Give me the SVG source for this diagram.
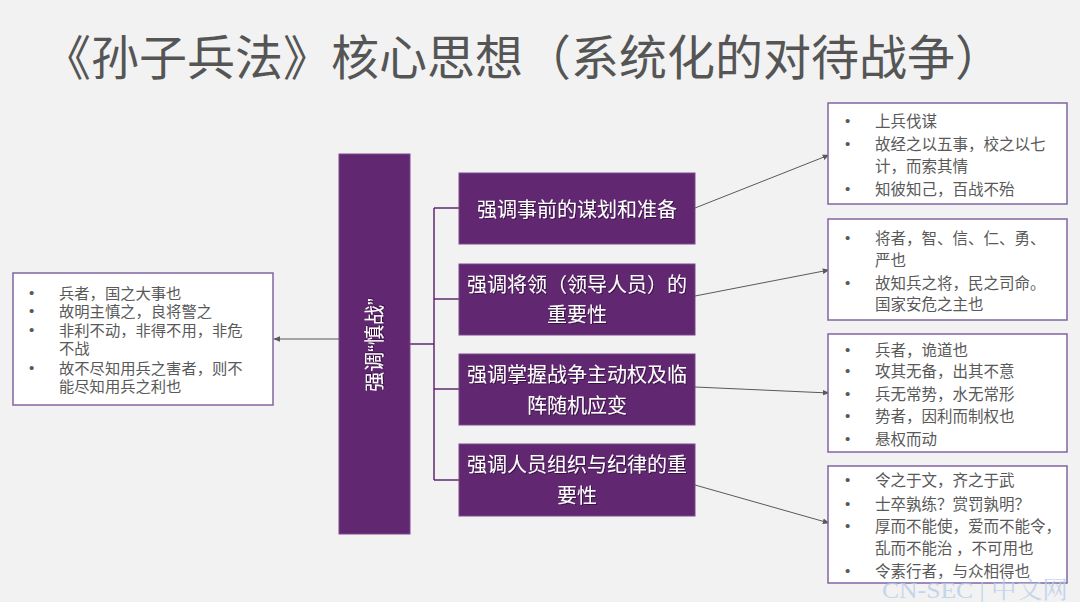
<svg xmlns="http://www.w3.org/2000/svg" width="1080" height="602" viewBox="0 0 1080 602">
<defs>
<marker id="arr" viewBox="0 0 10 10" refX="9" refY="5" markerWidth="7" markerHeight="7" orient="auto" markerUnits="userSpaceOnUse">
<path d="M0,1 L10,5 L0,9 z" fill="#595959"/>
</marker>
<filter id="sh" x="-10%" y="-30%" width="120%" height="160%">
<feDropShadow dx="1" dy="1" stdDeviation="0.6" flood-color="#000" flood-opacity="0.45"/>
</filter>
</defs>
<style>
text{font-family:"Noto Sans CJK SC","Noto Sans",sans-serif;}
.title{font-size:48px;fill:#555555;}
.pbox{fill:#612771;stroke:#7a4a8a;stroke-width:1;}
.wbox{fill:#ffffff;stroke:#8064a2;stroke-width:1.5;}
.mt{font-size:20px;fill:#ffffff;text-anchor:middle;filter:url(#sh);}
.bt{font-size:15.5px;fill:#595959;}
.lt{font-size:15.3px;fill:#595959;}
.dot{font-family:"Liberation Sans",Arial,sans-serif;font-size:15px;fill:#595959;}
.q{font-family:"Liberation Sans",Arial,sans-serif;}
.con{stroke:#595959;stroke-width:1;fill:none;}
.br{stroke:#612771;stroke-width:1.5;fill:none;}
</style>
<rect width="1080" height="602" fill="#f2f2f2"/>
<text class="title" x="43" y="75">《孙子兵法》核心思想（系统化的对待战争）</text>

<g id="connectors">
<line class="br" x1="410" y1="344" x2="434" y2="344"/>
<line class="br" x1="434" y1="208" x2="434" y2="480"/>
<line class="br" x1="434" y1="208" x2="459" y2="208"/>
<line class="br" x1="434" y1="299" x2="459" y2="299"/>
<line class="br" x1="434" y1="389" x2="459" y2="389"/>
<line class="br" x1="434" y1="480" x2="459" y2="480"/>
<line class="con" x1="339" y1="339" x2="274" y2="339" marker-end="url(#arr)"/>
<line class="con" x1="695" y1="208" x2="829" y2="155" marker-end="url(#arr)"/>
<line class="con" x1="695" y1="296" x2="829" y2="270" marker-end="url(#arr)"/>
<line class="con" x1="695" y1="387" x2="829" y2="393" marker-end="url(#arr)"/>
<line class="con" x1="695" y1="485" x2="829" y2="523" marker-end="url(#arr)"/>
</g>

<g id="root">
<rect class="pbox" x="339" y="154" width="71" height="380"/>
<text class="mt" transform="translate(375,345) rotate(-90)" x="0" y="7">强调<tspan class="q">“</tspan>慎战<tspan class="q">”</tspan></text>
</g>

<g id="n1">
<rect class="pbox" x="459" y="173" width="236" height="71"/>
<text class="mt" x="577" y="217">强调事前的谋划和准备</text>
</g>
<g id="n2">
<rect class="pbox" x="459" y="264" width="236" height="71"/>
<text class="mt" x="577" y="292">强调将领（领导人员）的</text>
<text class="mt" x="577" y="322">重要性</text>
</g>
<g id="n3">
<rect class="pbox" x="459" y="354" width="236" height="71"/>
<text class="mt" x="577" y="382">强调掌握战争主动权及临</text>
<text class="mt" x="577" y="413">阵随机应变</text>
</g>
<g id="n4">
<rect class="pbox" x="459" y="444" width="236" height="72"/>
<text class="mt" x="577" y="472">强调人员组织与纪律的重</text>
<text class="mt" x="577" y="503">要性</text>
</g>

<g id="left">
<rect class="wbox" x="13" y="273" width="260" height="132"/>
<text class="dot" x="29" y="298">•</text><text class="lt" x="59" y="299">兵者，国之大事也</text>
<text class="dot" x="29" y="316">•</text><text class="lt" x="59" y="317">故明主慎之，良将警之</text>
<text class="dot" x="29" y="335">•</text><text class="lt" x="59" y="336">非利不动，非得不用，非危</text>
<text class="lt" x="59" y="354">不战</text>
<text class="dot" x="29" y="373">•</text><text class="lt" x="59" y="374">故不尽知用兵之害者，则不</text>
<text class="lt" x="59" y="392">能尽知用兵之利也</text>
</g>

<g id="r1">
<rect class="wbox" x="828" y="103" width="239" height="101"/>
<text class="dot" x="845" y="126">•</text><text class="bt" x="875" y="127">上兵伐谋</text>
<text class="dot" x="845" y="149">•</text><text class="bt" x="875" y="150">故经之以五事，校之以七</text>
<text class="bt" x="875" y="172">计，而索其情</text>
<text class="dot" x="845" y="194">•</text><text class="bt" x="875" y="195">知彼知己，百战不殆</text>
</g>
<g id="r2">
<rect class="wbox" x="828" y="219" width="239" height="101"/>
<text class="dot" x="845" y="243">•</text><text class="bt" x="875" y="244">将者，智、信、仁、勇、</text>
<text class="bt" x="875" y="266">严也</text>
<text class="dot" x="845" y="288">•</text><text class="bt" x="875" y="289">故知兵之将，民之司命。</text>
<text class="bt" x="875" y="310">国家安危之主也</text>
</g>
<g id="r3">
<rect class="wbox" x="828" y="334" width="239" height="118"/>
<text class="dot" x="845" y="355">•</text><text class="bt" x="875" y="356">兵者，诡道也</text>
<text class="dot" x="845" y="376">•</text><text class="bt" x="875" y="377">攻其无备，出其不意</text>
<text class="dot" x="845" y="399">•</text><text class="bt" x="875" y="400">兵无常势，水无常形</text>
<text class="dot" x="845" y="421">•</text><text class="bt" x="875" y="422">势者，因利而制权也</text>
<text class="dot" x="845" y="444">•</text><text class="bt" x="875" y="445">悬权而动</text>
</g>
<g id="r4">
<rect class="wbox" x="828" y="466" width="239" height="117"/>
<text class="dot" x="845" y="485">•</text><text class="bt" x="875" y="486">令之于文，齐之于武</text>
<text class="dot" x="845" y="509">•</text><text class="bt" x="875" y="510">士卒孰练？赏罚孰明？</text>
<text class="dot" x="845" y="531">•</text><text class="bt" x="875" y="532">厚而不能使，爱而不能令，</text>
<text class="bt" x="875" y="554">乱而不能治 ，不可用也</text>
<text class="dot" x="845" y="576">•</text><text class="bt" x="875" y="577">令素行者，与众相得也</text>
</g>

<text x="882" y="598" textLength="186" lengthAdjust="spacingAndGlyphs" style="font-family:'Liberation Serif','Noto Serif CJK SC',serif;font-size:24px;fill:#b8cdea;fill-opacity:0.8">CN-SEC | 中文网</text>
</svg>
